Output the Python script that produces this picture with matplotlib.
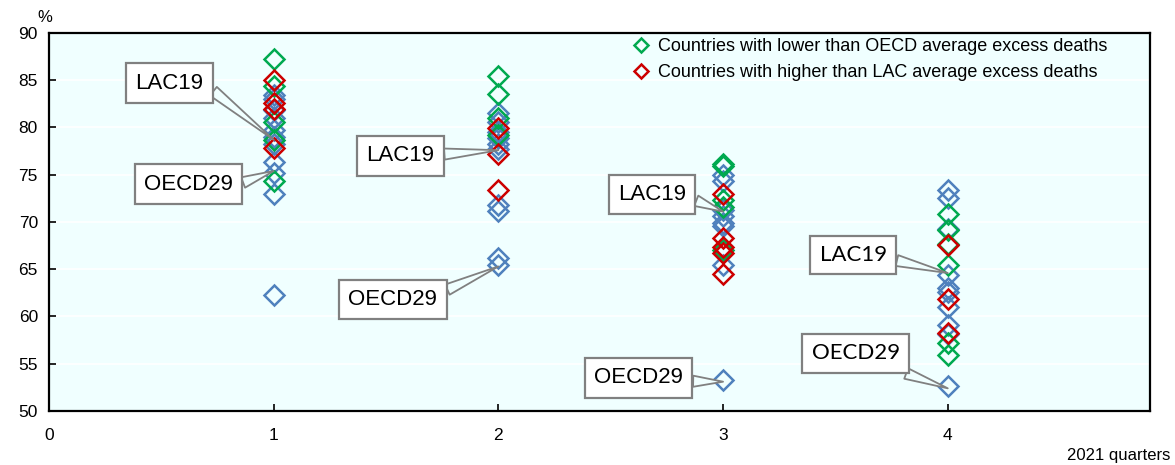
import matplotlib.pyplot as plt
from matplotlib.lines import Line2D

# Quarter positions
quarters = [1, 2, 3, 4]

# Countries not in either highlighted group (blue)
other_q1 = [83.4, 83.0, 81.8, 81.0, 79.7, 79.0, 78.3, 76.4, 75.2, 73.0, 62.3]
other_q2 = [81.5, 80.6, 79.5, 78.9, 78.3, 77.7, 71.8, 71.2, 66.2, 65.5]
other_q3 = [75.0, 74.3, 71.3, 70.6, 69.9, 69.6, 65.4, 53.3]
other_q4 = [73.4, 72.5, 69.3, 64.4, 63.0, 62.6, 61.0, 59.1, 58.2, 52.6]

# Countries with lower than OECD average excess deaths (green)
lower_q1 = [87.3, 84.4, 80.6, 78.7, 74.3]
lower_q2 = [85.4, 83.5, 81.0, 79.2]
lower_q3 = [76.1, 75.9, 72.3, 71.6, 67.0]
lower_q4 = [70.8, 69.2, 67.7, 65.4, 57.2, 55.9]

# Countries with higher than LAC average excess deaths (red)
higher_q1 = [85.0, 82.6, 82.0, 77.8]
higher_q2 = [79.9, 77.2, 73.4]
higher_q3 = [73.0, 68.3, 67.4, 66.7, 64.5]
higher_q4 = [67.6, 61.9, 58.3]

# Averages pointed at by the callouts
lac_avg = [78.7, 77.6, 71.1, 64.6]
oecd_avg = [75.4, 65.3, 53.1, 52.4]

# Where each callout box sits (x, y) in data coordinates
lac_box = [(0.535, 84.7), (1.563, 77.0), (2.684, 72.9), (3.579, 66.5)]
oecd_box = [(0.621, 74.0), (1.530, 61.8), (2.624, 53.5), (3.590, 56.1)]
# point on the box where the wedge leaves it
lac_rel = [(1, 0.5), (1, 0.55), (1, 0.4), (1, 0.35)]
oecd_rel = [(1, 0.4), (1, 0.75), (1, 0.35), (0.75, 0)]

other = [other_q1, other_q2, other_q3, other_q4]
lower = [lower_q1, lower_q2, lower_q3, lower_q4]
higher = [higher_q1, higher_q2, higher_q3, higher_q4]

bg = '#F0FFFF'
c_blue = '#4F81BD'
c_green = '#00A94F'
c_red = '#CC0000'

fig = plt.figure(figsize=(11.75, 4.65), dpi=100)
ax = fig.add_axes([49 / 1175, 1 - 411 / 465, (1150 - 49) / 1175, (411 - 33) / 465])
ax.set_facecolor(bg)

mk = dict(marker='D', linestyle='none', markersize=10.5, markerfacecolor='none', markeredgewidth=1.8)
for q, ys in zip(quarters, other):
    ax.plot([q] * len(ys), ys, color=c_blue, zorder=3, **mk)
for q, ys in zip(quarters, lower):
    ax.plot([q] * len(ys), ys, color=c_green, zorder=4, **mk)
for q, ys in zip(quarters, higher):
    ax.plot([q] * len(ys), ys, color=c_red, zorder=5, **mk)

# Callouts
for i, q in enumerate(quarters):
    fam = 'Lato' if q == 4 else 'Liberation Sans'
    for label, val, pos, rel in (('LAC19', lac_avg[i], lac_box[i], lac_rel[i]),
                                 ('OECD29', oecd_avg[i], oecd_box[i], oecd_rel[i])):
        ax.annotate(label, xy=(q, val), xytext=pos, ha='center', va='center',
                    fontsize=16, family=fam, zorder=6,
                    bbox=dict(boxstyle='square,pad=0.42', fc='white', ec='#808080', lw=1.6),
                    arrowprops=dict(arrowstyle='wedge,tail_width=0.5,shrink_factor=0.5',
                                    fc=bg, ec='#808080', lw=1.3, shrinkA=0, shrinkB=0,
                                    relpos=rel))

ax.set_xlim(0, 4.9)
ax.set_ylim(50, 90)
ax.set_xticks([0, 1, 2, 3, 4])
ax.set_yticks(range(50, 91, 5))
ax.yaxis.grid(True, color='white', lw=1.2)
ax.set_axisbelow(True)
ax.tick_params(direction='in', length=5, width=1.2, labelsize=12.5, pad=8)
ax.tick_params(axis='x', pad=12)
for lab in ax.get_xticklabels() + ax.get_yticklabels():
    lab.set_family('Liberation Sans')
for s in ax.spines.values():
    s.set_linewidth(1.6)

handles = [Line2D([], [], color=c_green, marker='D', linestyle='none', markersize=7,
                  markerfacecolor='none', markeredgewidth=1.8),
           Line2D([], [], color=c_red, marker='D', linestyle='none', markersize=7,
                  markerfacecolor='none', markeredgewidth=1.8)]
ax.legend(handles, ['Countries with lower than OECD average excess deaths',
                    'Countries with higher than LAC average excess deaths'],
          loc='upper left', bbox_to_anchor=(0.52, 1.02), frameon=False,
          handlelength=0.8, handletextpad=0.5, labelspacing=0.5, borderpad=0.2,
          prop={'family': 'Liberation Sans', 'size': 13})

fig.text(45 / 1175, 1 - 17 / 465, '%', fontsize=12, family='Liberation Sans', ha='center', va='center')
fig.text(1170 / 1175, 1 - 455 / 465, '2021 quarters', fontsize=12, family='Liberation Sans', ha='right', va='center')

fig.savefig('out.png', dpi=100)
